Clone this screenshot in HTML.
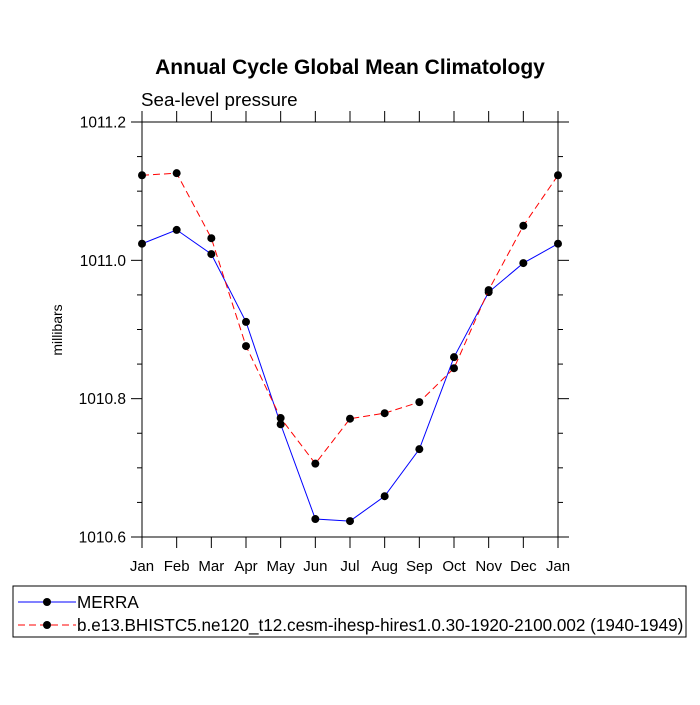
<!DOCTYPE html>
<html><head><meta charset="utf-8"><style>
body{margin:0;background:#fff;width:700px;height:700px;overflow:hidden}
svg{font-family:"Liberation Sans",sans-serif}
</style></head><body>
<svg id="c" width="700" height="700">
<text x="350" y="74" text-anchor="middle" font-size="21" font-weight="bold">Annual Cycle Global Mean Climatology</text>
<text x="141" y="106" font-size="18.8">Sea-level pressure</text>
<text transform="translate(62,330) rotate(-90)" text-anchor="middle" font-size="14">millibars</text>
<g id="axes"></g>
<g id="series"></g>
<rect x="13" y="586" width="673" height="51" fill="none" stroke="#000" stroke-width="1"/>
<g>
<line x1="18" y1="602" x2="76" y2="602" stroke="#00f" stroke-width="1"/>
<circle cx="47" cy="602" r="4" fill="#000"/>
<text x="77" y="608" font-size="17.1">MERRA</text></g>
<g>
<line x1="18" y1="625" x2="76" y2="625" stroke="#f00" stroke-width="1" stroke-dasharray="7,4"/>
<circle cx="47" cy="625" r="4" fill="#000"/>
<text x="77" y="631" font-size="17.1">b.e13.BHISTC5.ne120_t12.cesm-ihesp-hires1.0.30-1920-2100.002 (1940-1949)</text></g>
</svg>
<script>
const months=["Jan","Feb","Mar","Apr","May","Jun","Jul","Aug","Sep","Oct","Nov","Dec","Jan"];
const merra=[1011.024,1011.044,1011.009,1010.911,1010.763,1010.626,1010.623,1010.659,1010.727,1010.860,1010.954,1010.996,1011.024];
const model=[1011.123,1011.126,1011.032,1010.876,1010.772,1010.706,1010.771,1010.779,1010.795,1010.844,1010.957,1011.050,1011.123];
const yTicks=[1010.6,1010.8,1011.0,1011.2];
const yTickLabels=["1010.6","1010.8","1011.0","1011.2"];
const L=142,R=558,T=122,B=537,ymin=1010.6,ymax=1011.2;
const xs=i=>L+i*(R-L)/12;
const ys=v=>B-(v-ymin)/(ymax-ymin)*(B-T);
const NS="http://www.w3.org/2000/svg";
function mk(t,a,p){const e=document.createElementNS(NS,t);for(const k in a)e.setAttribute(k,a[k]);p.appendChild(e);return e;}
const ax=document.getElementById('axes');
const fr=mk('rect',{x:L,y:T,width:R-L,height:B-T,fill:'none',stroke:'#000','stroke-width':1},ax);


months.forEach((m,i)=>{
 const x=xs(i);
 mk('line',{x1:x,y1:B,x2:x,y2:B+11,stroke:'#000'},ax);
 mk('line',{x1:x,y1:T,x2:x,y2:T-11,stroke:'#000'},ax);
 const t=mk('text',{x:x,y:B+34,'text-anchor':'middle','font-size':15},ax);
 t.textContent=m;
 
 
});
for(let v=ymin;v<=ymax+1e-9;v+=0.05){
 const y=ys(v);
 const major=Math.abs(Math.round(v*10)/10-v)<1e-6 && Math.round(v*10)%2===0;
 const len=major?11:5;
 mk('line',{x1:L,y1:y,x2:L-len,y2:y,stroke:'#000'},ax);
 mk('line',{x1:R,y1:y,x2:R+len,y2:y,stroke:'#000'},ax);
}
yTicks.forEach((v,i)=>{
 const t=mk('text',{x:L-16,y:ys(v)+5.5,'text-anchor':'end','font-size':15.5},ax);
 t.textContent=yTickLabels[i];
 
 
});
const sg=document.getElementById('series');
function draw(vals,color,dash,name){
 const g=mk('g',{},sg);
 
 
 const a={points:vals.map((v,i)=>xs(i)+','+ys(v)).join(' '),fill:'none',stroke:color,'stroke-width':1};
 if(dash)a['stroke-dasharray']=dash;
 mk('polyline',a,g);
 vals.forEach((v,i)=>{
  const c=mk('circle',{cx:xs(i),cy:ys(v),r:4,fill:'#000'},g);
  
  
 });
}
draw(merra,'#00f',null,'merra-series');
draw(model,'#f00','7,4','model-series');
</script>
</body></html>
